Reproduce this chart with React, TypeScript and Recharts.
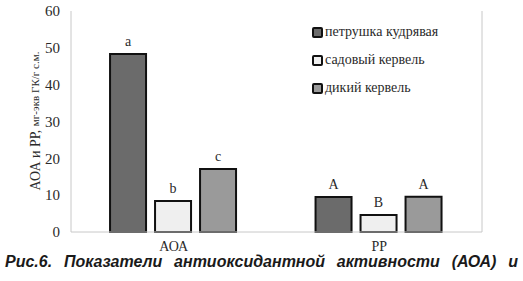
import React from "react";
import { Bar, BarChart, LabelList, Legend, XAxis, YAxis } from "recharts";

const categories = ["АОА", "РР"];
const parsley = [48.3, 9.5];
const gardenChervil = [8.4, 4.6];
const wildChervil = [17.1, 9.6];
const parsleyMarks = ["a", "A"];
const gardenMarks = ["b", "B"];
const wildMarks = ["c", "A"];
const yTicks = [0, 10, 20, 30, 40, 50, 60];

const seriesInfo = [
  { key: "parsley", name: "петрушка кудрявая", fill: "#6b6b6b", marks: parsleyMarks },
  { key: "garden", name: "садовый кервель", fill: "#efefef", marks: gardenMarks },
  { key: "wild", name: "дикий кервель", fill: "#9a9a9a", marks: wildMarks },
];

const data = categories.map((c, i) => ({
  cat: c,
  parsley: parsley[i],
  garden: gardenChervil[i],
  wild: wildChervil[i],
}));

const serif = "serif";

function markLabel(marks: string[]) {
  return (props: any) => {
    const { x, y, width, index } = props;
    return (
      <text
        x={x + width / 2}
        y={y - 8}
        textAnchor="middle"
        fontFamily={serif}
        fontSize={14}
        fill="#2a2a2a"
      >
        {marks[index]}
      </text>
    );
  };
}

function LegendBox() {
  return (
    <div style={{ fontFamily: serif, fontSize: 14, color: "#2a2a2a" }}>
      {seriesInfo.map((s) => (
        <div key={s.key} style={{ display: "flex", alignItems: "center", height: 28 }}>
          <span
            style={{
              display: "inline-block",
              width: 7,
              height: 7,
              border: "2px solid #111",
              borderRadius: 2,
              background: s.fill,
              marginRight: 2,
            }}
          />
          <span>{s.name}</span>
        </div>
      ))}
    </div>
  );
}

function YLabel() {
  return (
    <text
      transform="translate(35,121) rotate(-90)"
      textAnchor="middle"
      dominantBaseline="central"
      fontFamily={serif}
      fill="#2a2a2a"
    >
      <tspan fontSize={14}>АОА и РР, </tspan>
      <tspan fontSize={11}>мг-экв ГК/г с.м.</tspan>
    </text>
  );
}

export default function App() {
  return (
    <div
      style={{
        position: "absolute",
        left: 0,
        top: 0,
        width: 523,
        height: 281,
        background: "#fff",
        fontFamily: serif,
      }}
    >
      <BarChart
        width={523}
        height={255}
        data={data}
        margin={{ top: 11, right: 0, left: 0, bottom: 0 }}
        barCategoryGap="19%"
        barGap={9}
      >
        <XAxis
          dataKey="cat"
          stroke="#c8c8c8"
          tickLine={false}
          tickMargin={3}
          tick={{ fill: "#2a2a2a", fontSize: 14, fontFamily: serif }}
          height={23}
        />
        <XAxis xAxisId="top" orientation="top" dataKey="cat" stroke="#c8c8c8" tick={false} tickLine={false} height={0} />
        <YAxis
          domain={[0, 60]}
          ticks={yTicks}
          width={71}
          stroke="#c8c8c8"
          tickLine={false}
          tickMargin={5}
          tick={{ fill: "#2a2a2a", fontSize: 15, fontFamily: serif }}
          label={<YLabel />}
        />
        <YAxis
          yAxisId="right"
          orientation="right"
          width={41}
          stroke="#c8c8c8"
          tick={false}
          tickLine={false}
        />
        <Legend
          layout="vertical"
          align="center"
          verticalAlign="middle"
          content={<LegendBox />}
          wrapperStyle={{ left: 312, top: 18, width: 200, height: 90 }}
        />
        {seriesInfo.map((s) => (
          <Bar
            key={s.key}
            dataKey={s.key}
            name={s.name}
            fill={s.fill}
            stroke="#111"
            strokeWidth={2}
            isAnimationActive={false}
          >
            <LabelList dataKey={s.key} content={markLabel(s.marks)} />
          </Bar>
        ))}
      </BarChart>
      <div
        style={{
          position: "absolute",
          left: 5,
          top: 253,
          width: 513,
          lineHeight: "18px",
          fontFamily: "Liberation Sans, Arial, sans-serif",
          fontWeight: "bold",
          fontStyle: "italic",
          fontSize: 16,
          color: "#1a1a1a",
          textAlign: "justify",
          textAlignLast: "justify",
          whiteSpace: "nowrap",
        }}
      >
        Рис.6. Показатели антиоксидантной активности (АОА) и
      </div>
    </div>
  );
}
